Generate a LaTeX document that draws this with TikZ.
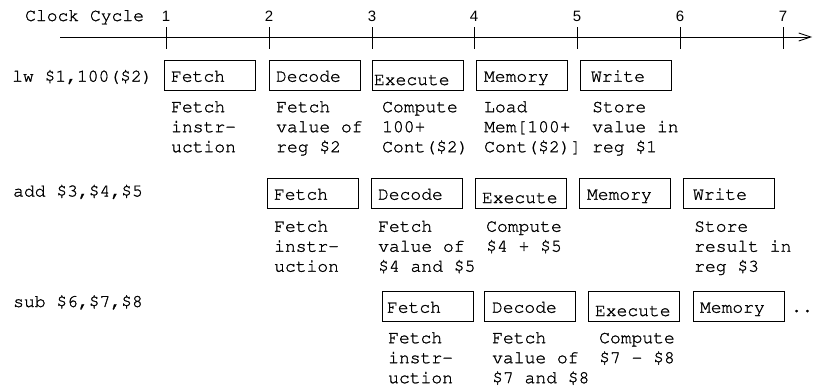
\documentclass[tikz,border=0pt]{standalone}
\usepackage[T1]{fontenc}
\usepackage{fontspec}
\newfontfamily\sansf{Liberation Sans}
\newcommand\monof{\fontencoding{T1}\fontfamily{pcr}\fontseries{m}\fontshape{n}}
\newcommand\heavier{\special{pdf:literal direct 2 Tr 0.22 w}}
\newcommand\plaintext{\special{pdf:literal direct 0 Tr}}
\usetikzlibrary{arrows.meta}
\begin{document}
\begin{tikzpicture}[x=1pt,y=-1pt,
  mono/.style={font=\monof\fontsize{18}{20}\selectfont\heavier},
  num/.style={font=\sansf\fontsize{15}{18}\selectfont\plaintext, anchor=base, inner sep=0pt},
  rowlabel/.style={mono, anchor=base west, inner sep=0pt},
  stage/.style={draw, line width=0.8pt, anchor=north west, outer sep=0pt,
    inner ysep=0pt, minimum width=91pt, minimum height=30pt, align=left,
    text height=13.4pt, text depth=0pt, mono},
  lowered/.style={text height=20pt},
  desc/.style={mono, anchor=north west, inner sep=0pt, align=left},
  tick/.style={line width=0.8pt},
  axis/.style={line width=0.8pt, -{Straight Barb[length=12pt,width=8pt]}}
]
\useasboundingbox (0,0) rectangle (813,389);

% axis
\node[mono, anchor=base west, inner sep=0pt] (cc) at (25,21) {Clock Cycle};
\coordinate (axs) at (60,37);
\coordinate (axe) at (812,37);
\draw[axis] (axs) -- (axe);
\foreach \i/\x in {1/166,2/269,3/372,4/474,5/577,6/680,7/783}{
  \coordinate (ta\i) at (\x,27);
  \coordinate (tb\i) at (\x,49);
  \draw[tick] (ta\i) -- (tb\i);
  \node[num] (n\i) at (\x,21) {\i};
}

% row labels
\node[rowlabel] (l1) at (12,81.7) {lw \$1,100(\$2)};
\node[rowlabel] (l2) at (13,196.5) {add \$3,\$4,\$5};
\node[rowlabel] (l3) at (13,307) {sub \$6,\$7,\$8};

% row 1
\node[stage, inner xsep=7pt, text width=77pt] (F1) at (164,60) {Fetch};
\node[stage, inner xsep=7pt, text width=77pt] (D1) at (269,60) {Decode};
\node[stage, lowered, inner xsep=2pt, text width=87pt] (E1) at (372,60) {Execute};
\node[stage, inner xsep=8pt, text width=75pt] (M1) at (476,60) {Memory};
\node[stage, inner xsep=11pt, text width=69pt] (W1) at (580,60) {Write};

\node[desc] (dF1) at (171,96) {\rule{0pt}{16pt}Fetch\\instr-\\uction};
\node[desc] (dD1) at (276,96) {\rule{0pt}{16pt}Fetch\\value of\\reg \$2};
\node[desc] (dE1) at (382,96) {\rule{0pt}{16pt}Compute\\100+\\Cont(\$2)};
\node[desc] (dM1) at (484,96) {\rule{0pt}{16pt}Load\\Mem[100+\\Cont(\$2)]};
\node[desc] (dW1) at (592,96) {\rule{0pt}{16pt}Store\\value in\\reg \$1};

% row 2
\node[stage, inner xsep=7pt, text width=77pt] (F2) at (267,178) {Fetch};
\node[stage, inner xsep=7pt, text width=77pt] (D2) at (371,178) {Decode};
\node[stage, lowered, inner xsep=7pt, text width=77pt] (E2) at (475,178) {Execute};
\node[stage, inner xsep=8pt, text width=75pt] (M2) at (579,178) {Memory};
\node[stage, inner xsep=10pt, text width=71pt] (W2) at (683,178) {Write};

\node[desc] (dF2) at (274,215.5) {\rule{0pt}{16pt}Fetch\\instr-\\uction};
\node[desc] (dD2) at (378,215.5) {\rule{0pt}{16pt}Fetch\\value of\\\$4 and \$5};
\node[desc] (dE2) at (486,215.5) {\rule{0pt}{16pt}Compute\\\$4 + \$5};
\node[desc] (dW2) at (694,215.5) {\rule{0pt}{16pt}Store\\result in\\reg \$3};

% row 3
\node[stage, inner xsep=5pt, text width=81pt] (F3) at (382,291) {Fetch};
\node[stage, inner xsep=8pt, text width=75pt] (D3) at (484,291) {Decode};
\node[stage, lowered, inner xsep=7pt, text width=77pt] (E3) at (588,291) {Execute};
\node[stage, inner xsep=7pt, text width=77pt] (M3) at (693,291) {Memory};
\node[rowlabel] (dots) at (791,312) {..};

\node[desc] (dF3) at (388,327) {\rule{0pt}{16pt}Fetch\\instr-\\uction};
\node[desc] (dD3) at (492,327) {\rule{0pt}{16pt}Fetch\\value of\\\$7 and \$8};
\node[desc] (dE3) at (599,327) {\rule{0pt}{16pt}Compute\\\$7 - \$8};
\end{tikzpicture}
\end{document}
